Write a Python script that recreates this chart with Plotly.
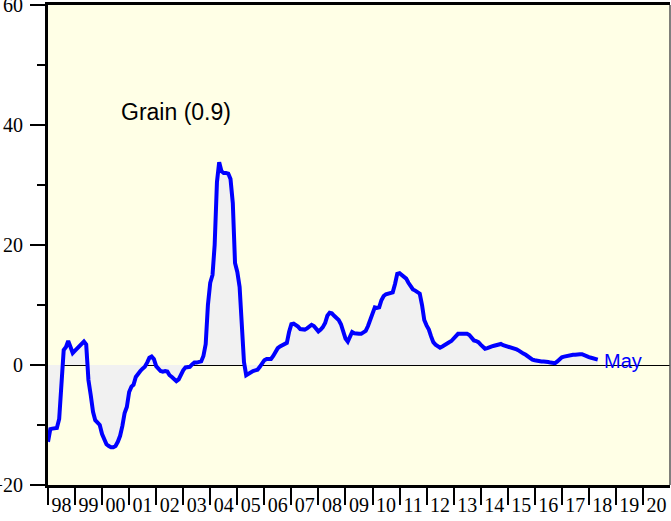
import pandas as pd
import plotly.graph_objects as go

# Monthly values, Jan 1998 .. May 2018
vals_1998 = [-12.8, -10.7, -10.6, -10.6, -10.5, -9.0, -2.0, 2.5, 3.0, 4.0, 3.0, 2.0]
vals_1999 = [2.4, 2.8, 3.2, 3.6, 3.9, 3.4, -2.5, -5.0, -7.8, -9.2, -9.6, -10.0]
vals_2000 = [-11.5, -12.6, -13.2, -13.5, -13.7, -13.7, -13.5, -12.8, -11.8, -10.2, -8.0, -7.0]
vals_2001 = [-4.5, -3.6, -3.3, -2.0, -1.4, -1.0, -0.6, -0.3, 0.4, 1.2, 1.4, 1.0]
vals_2002 = [-0.2, -0.6, -1.0, -1.1, -1.0, -1.1, -1.7, -2.0, -2.3, -2.7, -2.4, -1.6]
vals_2003 = [-0.9, -0.4, -0.4, -0.3, 0.1, 0.4, 0.4, 0.5, 0.6, 1.5, 3.5, 10.0]
vals_2004 = [13.7, 15.0, 20.0, 30.5, 33.8, 32.3, 32.0, 32.0, 31.9, 31.0, 27.0, 17.0]
vals_2005 = [15.5, 13.0, 6.5, 0.5, -1.7, -1.4, -1.2, -1.0, -0.9, -0.8, -0.3, 0.4]
vals_2006 = [0.8, 1.0, 1.0, 1.0, 1.5, 2.2, 2.8, 3.1, 3.3, 3.5, 3.7, 5.5]
vals_2007 = [6.8, 6.9, 6.7, 6.4, 6.0, 5.9, 5.9, 6.1, 6.4, 6.7, 6.5, 6.0]
vals_2008 = [5.6, 5.9, 6.3, 7.0, 8.2, 8.7, 8.6, 8.2, 7.8, 7.5, 6.8, 5.5]
vals_2009 = [4.4, 3.9, 4.8, 5.5, 5.3, 5.2, 5.2, 5.2, 5.4, 5.7, 6.5, 7.4]
vals_2010 = [8.5, 9.6, 9.5, 9.6, 10.8, 11.5, 11.8, 11.9, 12.0, 12.1, 13.5, 15.2]
vals_2011 = [15.3, 15.0, 14.9, 14.4, 13.7, 13.1, 12.6, 12.4, 12.2, 11.9, 10.0, 7.5]
vals_2012 = [6.6, 5.9, 4.8, 3.8, 3.4, 3.1, 2.9, 3.1, 3.4, 3.7, 3.8, 4.0]
vals_2013 = [4.4, 4.9, 5.2, 5.2, 5.2, 5.2, 5.2, 5.0, 4.5, 4.1, 4.0, 3.8]
vals_2014 = [3.4, 3.0, 2.7, 2.8, 3.0, 3.1, 3.2, 3.3, 3.4, 3.5, 3.3, 3.2]
vals_2015 = [3.0, 2.9, 2.8, 2.7, 2.6, 2.4, 2.1, 1.9, 1.7, 1.4, 1.1, 0.9]
vals_2016 = [0.8, 0.7, 0.6, 0.6, 0.6, 0.6, 0.5, 0.4, 0.3, 0.3, 0.6, 1.0]
vals_2017 = [1.3, 1.4, 1.5, 1.6, 1.7, 1.7, 1.7, 1.8, 1.8, 1.8, 1.6, 1.4]
vals_2018 = [1.3, 1.2, 1.1, 1.0, 0.9]

valores = (vals_1998 + vals_1999 + vals_2000 + vals_2001 + vals_2002 + vals_2003
           + vals_2004 + vals_2005 + vals_2006 + vals_2007 + vals_2008 + vals_2009
           + vals_2010 + vals_2011 + vals_2012 + vals_2013 + vals_2014 + vals_2015
           + vals_2016 + vals_2017 + vals_2018)

datas = pd.date_range("1998-01-01", periods=len(valores), freq="MS")

anos = list(range(1998, 2021))
rotulos_anos = ["98", "99", "00", "01", "02", "03", "04", "05", "06", "07", "08", "09",
                "10", "11", "12", "13", "14", "15", "16", "17", "18", "19", "20"]

titulo = "Grain (0.9)"
ultimo_mes = "May"

fig = go.Figure()

fig.add_trace(go.Scatter(x=datas, y=valores, mode="lines",
                         line=dict(color="#0000FF", width=4),
                         fill="tozeroy", fillcolor="#F1F1F1",
                         hoverinfo="skip", showlegend=False))

fig.add_annotation(x="2002-10-01", y=42.2, text=titulo, showarrow=False,
                   font=dict(family="Liberation Sans, Arial", size=23, color="black"),
                   xanchor="center", yanchor="middle")

fig.add_annotation(x=datas[-1], y=valores[-1], text=ultimo_mes, showarrow=False,
                   font=dict(family="Liberation Sans, Arial", size=20, color="#0000FF"),
                   xanchor="left", yanchor="middle", xshift=4, yshift=-1)

# borda direita fina
fig.add_shape(type="line", xref="paper", yref="paper", x0=1, x1=1, y0=0, y1=1,
              line=dict(color="#555555", width=1.5))

fig.update_layout(
    width=671, height=521,
    margin=dict(l=48, r=1, t=5, b=36, autoexpand=False),
    paper_bgcolor="white",
    plot_bgcolor="#FFFFE6",
    font=dict(family="Liberation Serif, Times New Roman", size=20, color="black"),
    xaxis=dict(
        range=["1998-01-01", "2021-01-01"],
        automargin=False,
        tickmode="array",
        tickvals=[f"{a}-07-02" for a in anos],
        ticktext=rotulos_anos,
        ticks="",
        tickfont=dict(size=20),
        ticklabelstandoff=0,
        ticklabeloverflow="allow",
        showgrid=False, zeroline=False,
        showline=True, linecolor="black", linewidth=3, mirror=True,
        minor=dict(tickmode="array", tickvals=[f"{a}-01-01" for a in anos],
                   ticks="outside", ticklen=17, tickwidth=2, tickcolor="black",
                   showgrid=False),
    ),
    yaxis=dict(
        range=[-20, 60],
        automargin=False,
        tickvals=[-20, 0, 20, 40, 60],
        ticks="outside", ticklen=15, tickwidth=2, tickcolor="black",
        tickfont=dict(size=20),
        ticklabelstandoff=3,
        ticklabeloverflow="allow",
        showgrid=False,
        zeroline=True, zerolinecolor="black", zerolinewidth=1,
        showline=True, linecolor="black", linewidth=3,
        minor=dict(dtick=10, ticks="outside", ticklen=8, tickwidth=2,
                   tickcolor="black", showgrid=False),
    ),
)

# tira a margem padrão do body para o gráfico ficar no canto da página
fig.write_html("out.html", config={"displayModeBar": False},
               post_script="document.body.style.margin='0';")
